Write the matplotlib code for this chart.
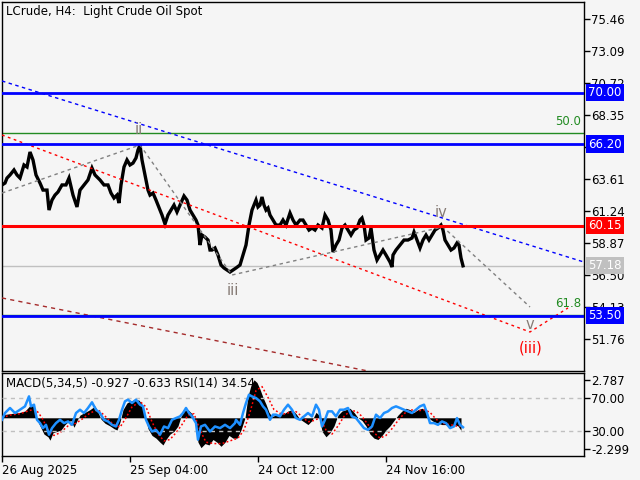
import matplotlib
matplotlib.use("Agg")
import matplotlib.pyplot as plt
import numpy as np

# ---------------- data ----------------
title = "LCrude, H4:  Light Crude Oil Spot"
ind_label = "MACD(5,34,5) -0.927 -0.633 RSI(14) 34.54"

price_bar = [0,3,5,8,12,15,18,22,25,28,31,34,38,41,45,47,50,53,56,60,64,67,71,75,78,82,86,90,93,98,
             102,106,109,112,115,117,119,122,125,128,131,134,136,138,140,142,144,146,148,151,154,156,158,160,163,166,169,172,175,178,
             182,185,188,191,194,196,198,200,203,206,208,210,213,216,219,222,225,228,231,234,238,241,244,247,250,252,254,256,258,260,
             262,264,266,268,271,274,278,281,284,288,291,294,298,301,304,307,310,313,316,320,323,326,329,331,334,337,340,343,346,349,
             352,355,358,360,362,364,367,369,372,375,378,381,384,388,390,391,394,398,402,406,410,412,415,418,421,424,427,430,433,436,
             439,441,443,446,449,452,455,457,459,461]
price_close = [63.17,63.31,63.68,63.91,64.28,63.91,63.68,64.65,64.50,65.61,65.02,63.91,63.31,62.79,62.79,61.31,62.05,62.42,62.65,63.17,
               63.17,63.68,62.42,61.54,62.79,63.17,63.54,64.42,63.91,63.54,63.17,63.17,62.57,62.20,62.42,61.83,63.17,64.50,65.02,64.65,
               64.79,65.17,65.76,66.13,65.02,64.28,63.54,62.79,62.42,62.57,62.05,61.68,61.31,60.94,60.28,60.94,61.31,61.68,61.17,61.68,
               62.35,62.05,61.31,60.94,60.57,60.20,58.72,59.46,59.31,59.09,58.35,58.35,58.50,57.98,57.24,57.02,56.87,56.72,56.87,57.02,
               57.24,57.98,58.72,60.20,61.31,61.68,62.05,61.54,61.68,62.28,61.68,61.31,61.46,60.94,60.57,60.20,60.20,60.57,60.20,61.09,
               60.57,60.20,60.57,60.57,60.20,59.83,59.98,59.83,60.20,59.98,60.94,60.57,59.83,58.20,58.72,59.09,59.98,60.20,59.83,59.46,
               59.83,59.98,60.57,60.72,60.20,59.09,59.24,59.98,58.35,57.61,57.98,58.35,57.98,57.46,57.09,57.98,58.35,58.72,59.09,59.09,
               59.24,59.68,59.09,58.50,59.09,59.46,59.09,59.46,59.83,59.98,60.20,59.83,59.09,58.72,58.35,58.50,58.87,58.72,57.76,57.18]

macd_bar = [0,3,8,13,18,23,28,31,34,38,42,46,48,51,55,59,63,66,69,72,75,78,83,88,93,96,99,103,108,112,
            115,118,121,125,129,133,137,140,143,146,150,154,158,161,164,168,172,176,179,182,186,190,193,196,199,203,207,211,215,219,
            223,227,231,235,239,243,246,249,252,255,258,261,264,267,270,274,278,282,286,290,294,298,302,306,310,314,317,320,324,328,
            332,336,340,344,348,352,356,360,364,368,372,376,380,384,388,392,396,400,404,408,412,416,420,424,428,432,436,440,444,448,
            452,456,459]
macd_val = [0.1,0.25,0.3,0.35,0.4,0.5,0.9,0.97,0.0,-0.6,-1.2,-1.4,-1.65,-1.1,-1.0,-0.9,-0.5,-0.3,-0.2,-0.7,
            -0.2,0.2,0.4,0.6,0.87,0.4,-0.1,-0.4,-0.6,-0.8,-0.9,-0.3,0.6,1.1,1.25,1.33,1.3,1.0,0.2,-0.8,
            -1.3,-1.5,-1.8,-2.0,-1.6,-1.2,-1.0,-0.6,0.1,0.5,0.6,0.3,-0.2,-1.8,-2.2,-1.9,-2.0,-1.6,-1.8,-2.1,
            -1.8,-1.3,-1.5,-1.5,-0.9,0.0,1.6,2.4,2.8,2.6,2.1,1.5,1.0,0.4,0.1,0.2,0.3,0.3,0.5,0.6,
            0.3,-0.1,-0.3,-0.5,-0.2,0.4,0.2,-1.0,-1.4,-1.1,-0.6,0.2,0.5,0.6,0.7,0.4,0.0,-0.2,-0.6,-1.2,
            -1.5,-1.6,-1.3,-0.9,-0.6,-0.2,0.2,0.5,0.7,0.6,0.4,0.6,0.7,0.5,-0.1,-0.3,-0.4,-0.5,-0.5,-0.7,
            -0.5,-0.6,-0.93]

sig_bar = [0,8,18,28,34,40,46,52,58,66,74,80,88,96,102,110,118,124,130,138,144,150,156,162,168,174,180,186,192,198,
           204,212,220,228,236,242,248,254,260,266,272,280,288,294,300,306,312,318,324,330,336,342,348,354,360,366,372,378,384,390,
           396,402,408,416,422,428,434,440,448,454,459]
sig_val = [0.0,0.2,0.3,0.55,0.6,0.0,-0.9,-1.3,-1.1,-0.6,-0.4,-0.1,0.35,0.6,0.2,-0.4,-0.7,0.0,0.8,1.2,0.8,-0.3,-1.2,-1.7,-1.6,-1.1,-0.5,0.2,0.3,-0.9,
           -1.8,-1.9,-1.9,-1.7,-1.5,-0.9,0.4,2.0,2.3,1.5,0.6,0.25,0.4,0.45,0.1,-0.3,-0.2,0.0,-0.9,-1.2,-0.6,0.1,0.5,0.5,0.1,-0.5,-1.1,-1.5,-1.3,-0.8,
           -0.2,0.3,0.6,0.5,0.6,0.4,-0.1,-0.4,-0.5,-0.6,-0.633]

rsi_bar = [0,3,8,13,18,23,27,29,32,35,38,41,44,47,50,54,58,62,66,70,74,78,82,86,90,94,98,102,106,110,
           114,117,120,123,126,130,134,138,141,144,147,150,154,158,162,166,170,174,178,181,184,187,190,194,196,199,203,208,213,218,
           223,228,233,234,238,241,244,247,250,254,258,261,264,268,271,274,278,282,286,290,294,298,302,306,310,314,317,320,323,326,
           330,334,338,342,346,350,354,358,362,366,370,374,378,382,386,390,394,398,402,406,410,414,418,422,425,428,432,436,440,444,
           448,452,455,458,461]
rsi_val = [43.6,51.8,57.9,51.8,55.8,59.9,72,59.9,61.9,43.6,39.6,33.5,37.5,25.5,33.5,39.6,43.6,39.6,41.6,37.5,
           51.8,55.8,51.8,57.9,64.8,55.8,51.8,43.6,41.6,37.5,35.5,43.6,55.8,66.0,68,63.9,68,61.9,59.9,43.6,
           35.5,29.4,31.4,25.5,35.5,33.5,43.6,45.7,47.7,51.8,57.9,51.8,47.7,39.6,19.5,35.5,37.5,29.4,35.5,33.5,
           37.5,33.5,39.6,43.6,37.5,51.8,63.9,74,71.9,70,65.9,59.9,55.8,43.6,49.8,49.8,47.7,55.8,61.9,55.8,
           45.7,43.6,47.7,51.8,47.7,61.9,55.8,35.5,43.6,53.8,53.8,47.7,55.8,55.8,57.9,47.7,45.7,39.6,33.5,31.4,
           35.5,49.8,45.7,51.8,53.8,57.9,59.9,57.9,55.8,53.8,51.8,55.8,59.9,61.9,51.8,39.6,39.6,37.5,41.6,39.6,
           33.5,35.5,45.7,37.5,34.54]

price_ticks = [75.46, 73.09, 70.72, 68.35, 65.98, 63.61, 61.24, 58.87, 56.50, 54.13, 51.76]
date_ticks = [0, 128, 256, 384]
date_labels = ["26 Aug 2025", "25 Sep 04:00", "24 Oct 12:00", "24 Nov 16:00"]

blue_levels = [70.00, 66.20, 53.50]
red_level = 60.15
last_price = 57.18
fib_levels = [67.02, 53.55]
fib_labels = ["50.0", "61.8"]

blue_tl_bar, blue_tl_price = [0, 582], [70.87, 57.46]
red_tl_bar, red_tl_price = [0, 528, 566], [66.87, 52.28, 54.06]
brown_tl_bar, brown_tl_price = [0, 366], [54.80, 49.39]
wave_bar = [0, 138, 230, 441, 528]
wave_price = [62.57, 66.13, 56.50, 60.06, 54.13]
wave_lbl = ["ii", "iii", "iv", "v"]
wave_lbl_bar = [136.5, 231, 439, 528]
wave_lbl_price = [67.29, 55.34, 61.11, 52.80]
deg_lbl, deg_lbl_bar, deg_lbl_price = "(iii)", 529, 51.07

macd_ticks = [2.787, -2.299]
rsi_levels = [70, 30]

# ---------------- figure ----------------
BG = "#f5f5f5"
W, H = 640, 480
plt.rcParams['font.family'] = ['DejaVu Sans']
fig = plt.figure(figsize=(6.4, 4.8), dpi=100, facecolor=BG)

def rect(x0, y0, x1, y1):
    return [x0 / W, 1 - y1 / H, (x1 - x0) / W, (y1 - y0) / H]

ax = fig.add_axes(rect(2, 2, 584, 371), facecolor=BG)
ax.set_xlim(0, 582)
ax.set_ylim(49.39, 76.72)
for s in ax.spines.values():
    s.set_color("black"); s.set_linewidth(1)
ax.set_xticks([])
ax.yaxis.tick_right()
ax.set_yticks(price_ticks)
ax.set_yticklabels([f"{t:.2f}" for t in price_ticks])
ax.tick_params(axis='y', direction='out', length=4, width=1, pad=1, labelsize=8.5, colors='black')

# price
n = min(len(price_bar), len(price_close))
ax.plot(price_bar[:n], price_close[:n], color='black', lw=2.4, zorder=2, solid_joinstyle='miter')

# horizontal levels
ax.axhline(last_price, color='#c0c0c0', lw=1, zorder=1.5)
for f in fib_levels:
    ax.axhline(f, color='#228b22', lw=1, zorder=1.6)
for lv in blue_levels:
    ax.axhline(lv, color='#0000ff', lw=2, zorder=4)
ax.axhline(red_level, color='#ff0000', lw=2.2, zorder=4)

# trend lines
ax.plot(blue_tl_bar, blue_tl_price, color='#0000ff', lw=1, ls=(0, (2.5, 2.5)), zorder=3)
ax.plot(red_tl_bar, red_tl_price, color='#ff0000', lw=1, ls=(0, (2, 2.5)), zorder=3)
ax.plot(brown_tl_bar, brown_tl_price, color='#a52a2a', lw=1, ls=(0, (3, 3)), zorder=3)
ax.plot(wave_bar, wave_price, color='#808080', lw=1, ls=(0, (2.5, 2.5)), zorder=3)

# wave labels
for t, b, p in zip(wave_lbl, wave_lbl_bar, wave_lbl_price):
    ax.text(b, p, t, color='#857a74', fontsize=10.5, ha='center', va='center', zorder=5)
ax.text(deg_lbl_bar, deg_lbl_price, deg_lbl, color='#ff0000', fontsize=10.5, ha='center', va='center', zorder=5)

# fib labels
for f, t in zip(fib_levels, fib_labels):
    ax.annotate(t, xy=(1, f), xycoords=('axes fraction', 'data'), xytext=(-2, 3.5),
                textcoords='offset points', ha='right', va='bottom', color='#228b22', fontsize=8.5, zorder=5)

# title
ax.text(4 / 582, 1 - 10 / 369, title, transform=ax.transAxes, fontsize=8.5, ha='left', va='center', color='black')

# price boxes
def price_box(a, val, fc, tc='white'):
    a.annotate(f"{val:.2f}", xy=(1, val), xycoords=('axes fraction', 'data'), xytext=(3.2, 0),
               textcoords='offset points', ha='left', va='center', color=tc, fontsize=8.5, zorder=10,
               annotation_clip=False,
               bbox=dict(boxstyle='square,pad=0.18', fc=fc, ec='none'))

for lv in blue_levels:
    price_box(ax, lv, '#0000ff')
price_box(ax, red_level, '#ff0000')
price_box(ax, last_price, '#c0c0c0')

# ---------------- indicator panel ----------------
ax2 = fig.add_axes(rect(2, 373, 584, 456), facecolor=BG)
ax2.set_xlim(0, 582)
ax2.set_ylim(-2.815, 3.30)
for s in ax2.spines.values():
    s.set_color("black"); s.set_linewidth(1)

m = min(len(macd_bar), len(macd_val))
mb = np.array(macd_bar[:m], dtype=float)
mv = np.array(macd_val[:m], dtype=float)
ax2.fill_between(mb, 0, mv, color='black', lw=0, zorder=2)
k = min(len(sig_bar), len(sig_val))
ax2.plot(sig_bar[:k], sig_val[:k], color='#ff0000', lw=1.1, ls=(0, (1.2, 1.5)), zorder=3)

ax2.set_xticks(date_ticks)
ax2.set_xticklabels(date_labels)
ax2.tick_params(axis='x', direction='out', length=4, width=1, pad=2, labelsize=8.5)
for lbl in ax2.get_xticklabels():
    lbl.set_ha('left')

ax3 = ax2.twinx()
ax3.set_ylim(-0.3, 100.3)
ax3.patch.set_visible(False)
for s in ax3.spines.values():
    s.set_visible(False)
for lv in rsi_levels:
    ax3.axhline(lv, color='#c0c0c0', lw=1, ls=(0, (3, 3)), zorder=1)
r = min(len(rsi_bar), len(rsi_val))
ax3.plot(rsi_bar[:r], rsi_val[:r], color='#1e90ff', lw=1.8, zorder=4)
ax3.set_yticks(rsi_levels)
ax3.set_yticklabels([f"{t:.2f}" for t in rsi_levels])
ax3.tick_params(axis='y', direction='out', length=4, width=1, pad=1, labelsize=8.5)
ax3.text(4 / 582, 1 - 10 / 83, ind_label, transform=ax3.transAxes, fontsize=8.5,
         ha='left', va='center', color='black')

# MACD scale labels on the right (after twinx, which moves ticks left)
ax2.yaxis.tick_right()
ax2.yaxis.set_label_position('right')
ax2.set_yticks(macd_ticks)
ax2.set_yticklabels([f"{t:.3f}" for t in macd_ticks])
ax2.tick_params(axis='y', which='both', left=False, labelleft=False, right=True, labelright=True,
                direction='out', length=4, width=1, pad=1, labelsize=8.5)

fig.savefig("out.png", dpi=100, facecolor=BG)
